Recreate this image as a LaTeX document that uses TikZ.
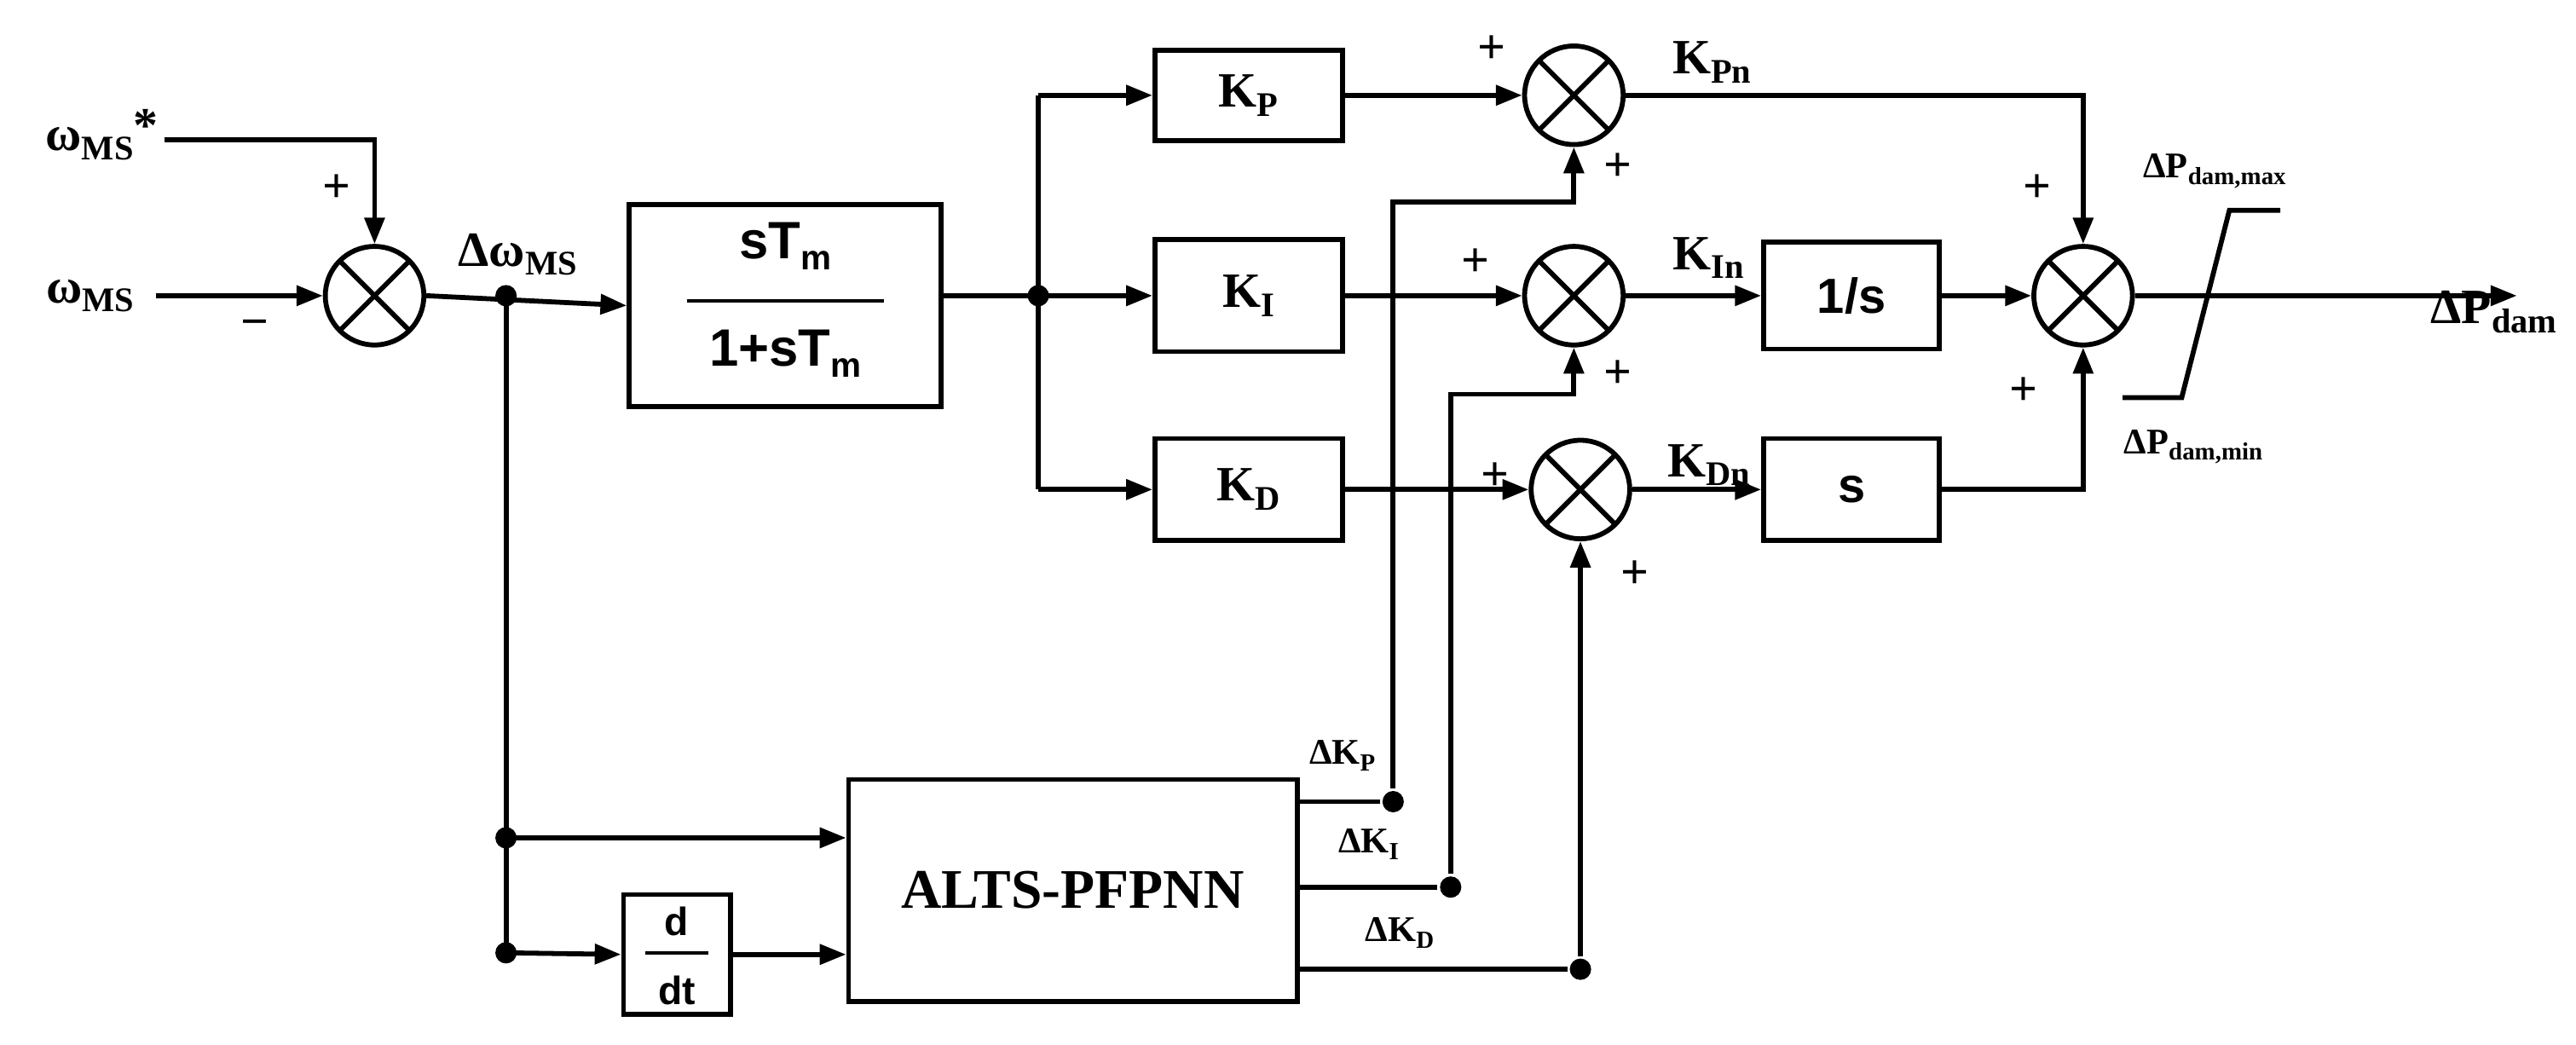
\documentclass[tikz,border=0pt]{standalone}
\usepackage{fontspec}
\setmainfont{Liberation Serif}
\newfontfamily\sansf{Liberation Sans}
\usetikzlibrary{arrows.meta}
\newcommand\sbs[1]{\raisebox{-0.4ex}{\fontsize{21}{21}\selectfont #1}}
\newcommand\sbt[1]{\raisebox{-0.4ex}{\fontsize{15}{15}\selectfont #1}}
\begin{document}
\begin{tikzpicture}[x=1pt,y=-1pt,line width=3pt,
 arr/.style={-{Triangle[length=16pt,width=12pt]}},
 blk/.style={draw,minimum width=114pt,inner sep=0pt},
 sum/.style={draw,circle,minimum size=60pt,inner sep=0pt,path picture={
   \draw[line width=3pt] (path picture bounding box.south west)--(path picture bounding box.north east)
   (path picture bounding box.north west)--(path picture bounding box.south east);}},
 lbl/.style={font=\fontsize{30}{34}\selectfont\bfseries,inner sep=0pt},
 sml/.style={font=\fontsize{22}{26}\selectfont\bfseries,inner sep=0pt},
 dot/.style={circle,fill,inner sep=0pt,minimum size=13pt}]
\useasboundingbox (0,0) rectangle (1568,636);
% sums
\node[sum] (s1) at (228,180) {};
\node[sum] (s2) at (958,58) {};
\node[sum] (s3) at (958,180) {};
\node[sum] (s4) at (962,298) {};
\node[sum] (s5) at (1268,180) {};
% blocks
\node[draw,minimum width=190pt,minimum height=123pt] (b1) at (478,186) {};
\node[font=\fontsize{32}{36}\selectfont\sansf\bfseries] at (478,150) {sT\sbs{m}};
\draw[line width=2pt] (418,183)--(538,183);
\node[font=\fontsize{32}{36}\selectfont\sansf\bfseries] at (478,215) {1+sT\sbs{m}};
\node[blk,minimum height=55pt] (kp) at (760,58) {\fontsize{30}{34}\selectfont\bfseries K\sbs{P}};
\node[blk,minimum height=68pt] (ki) at (760,180) {\fontsize{30}{34}\selectfont\bfseries K\sbs{I}};
\node[blk,minimum height=62pt] (kd) at (760,298) {\fontsize{30}{34}\selectfont\bfseries K\sbs{D}};
\node[draw,minimum width=107pt,minimum height=65pt] (is) at (1127,180) {\fontsize{30}{34}\selectfont\sansf\bfseries 1/s};
\node[draw,minimum width=107pt,minimum height=62pt] (ss) at (1127,298) {\fontsize{30}{34}\selectfont\sansf\bfseries s};
\node[draw,minimum width=273pt,minimum height=135pt] (nn) at (653,542) {\fontsize{34}{40}\selectfont\bfseries ALTS-PFPNN};
\node[draw,minimum width=65pt,minimum height=73pt] (dt) at (412,581) {};
\node[font=\fontsize{24}{28}\selectfont\sansf\bfseries] at (412,561) {d};
\draw[line width=2pt] (393,580)--(431,580);
\node[font=\fontsize{24}{28}\selectfont\sansf\bfseries] at (412,603) {dt};
% coordinates
\coordinate (in1) at (100,85);
\coordinate (in2) at (95,180);
\coordinate (j1) at (308,180);
\coordinate (j2) at (632,180);
\coordinate (j3) at (308,510);
\coordinate (j4) at (308,580);
\coordinate (out) at (1532,180);
\node[dot] (dkp) at (848,488) {};
\node[dot] (dki) at (883,540) {};
\node[dot] (dkd) at (962,590) {};
\fill (j1) circle (6.5pt) (j2) circle (6.5pt) (j3) circle (6.5pt) (j4) circle (6.5pt);
% connectors
\draw[arr] (in1) -| (s1.north);
\draw[arr] (in2) -- (s1.west);
\draw[arr] (s1.east) -- (b1.west);
\draw (j1) -- (j4);
\draw[arr] (j3) -- (nn.west |- j3);
\draw[arr] (j4) -- (dt.west);
\draw[arr] (dt.east) -- (nn.west |- dt.east);
\draw (b1.east |- j2) -- (j2);
\draw (632,58) -- (632,298);
\draw[arr] (632,58) -- (kp.west);
\draw[arr] (j2) -- (ki.west);
\draw[arr] (632,298) -- (kd.west);
\draw[arr] (kp.east) -- (s2.west);
\draw[arr] (ki.east) -- (s3.west);
\draw[arr] (kd.east) -- (s4.west);
\draw[arr] (s2.east) -| (s5.north);
\draw[arr] (s3.east) -- (is.west);
\draw[arr] (is.east) -- (s5.west);
\draw[arr] (s4.east) -- (ss.west);
\draw[arr] (ss.east) -| (s5.south);
\draw[arr] (s5.east) -- (out);
\draw (nn.east |- dkp) -- (dkp);
\draw[arr] (dkp) |- (958,123) -- (s2.south);
\draw (nn.east |- dki) -- (dki);
\draw[arr] (dki) |- (958,240) -- (s3.south);
\draw (nn.east |- dkd) -- (dkd);
\draw[arr] (dkd) -- (s4.south);
% saturation
\draw (1292,242) -- (1328,242) -- (1357,128) -- (1388,128);
% labels
\node[lbl] at (62,82) {ω\sbs{MS}\raisebox{0.4ex}{*}};
\node[lbl] at (55,180) {ω\sbs{MS}};
\node[lbl] at (205,115) {+};
\node[lbl] at (155,200) {−};
\node[lbl] at (315,155) {Δω\sbs{MS}};
\node[lbl] at (908,30) {+};
\node[lbl] at (985,102) {+};
\node[lbl] at (898,160) {+};
\node[lbl] at (985,228) {+};
\node[lbl] at (910,290) {+};
\node[lbl] at (995,350) {+};
\node[lbl] at (1240,115) {+};
\node[lbl] at (1232,238) {+};
\node[lbl] at (1042,38) {K\sbs{Pn}};
\node[lbl] at (1040,157) {K\sbs{In}};
\node[lbl] at (1040,283) {K\sbs{Dn}};
\node[lbl,anchor=west] at (1478,190) {ΔP\sbs{dam}};
\node[sml] at (1348,104) {ΔP\sbt{dam,max}};
\node[sml] at (1335,272) {ΔP\sbt{dam,min}};
\node[sml] at (817,460) {ΔK\sbt{P}};
\node[sml] at (833,514) {ΔK\sbt{I}};
\node[sml] at (852,568) {ΔK\sbt{D}};
\end{tikzpicture}
\end{document}
